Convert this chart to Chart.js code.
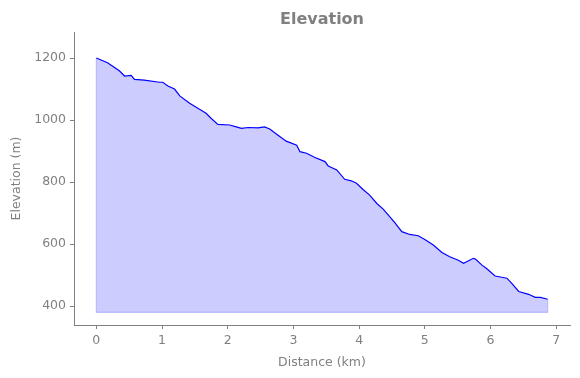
<!DOCTYPE html>
<html>
<head>
<meta charset="utf-8">
<title>Elevation</title>
<script src="https://cdn.jsdelivr.net/npm/chart.js@4.4.1/dist/chart.umd.min.js"></script>
<style>
  html, body { margin: 0; padding: 0; background: #fff; }
  #wrap { width: 580px; height: 378px; }
</style>
</head>
<body>
<div id="wrap"><canvas id="elevChart"></canvas></div>
<script>
// profile
var distKm = [0, 0.17, 0.35, 0.43, 0.53, 0.58, 0.73, 0.96, 1.01, 1.09, 1.19, 1.27, 1.42, 1.57,
  1.67, 1.75, 1.85, 2.03, 2.13, 2.21, 2.31, 2.46, 2.56, 2.64, 2.76, 2.89, 3.05, 3.10, 3.20,
  3.32, 3.48, 3.53, 3.66, 3.78, 3.88, 3.96, 4.06, 4.16, 4.27, 4.37, 4.54, 4.65, 4.77, 4.90,
  5.00, 5.13, 5.26, 5.38, 5.51, 5.59, 5.74, 5.77, 5.87, 5.94, 6.07, 6.17, 6.25, 6.32, 6.43,
  6.58, 6.68, 6.76, 6.87];
var elevM = [1200, 1185, 1159, 1142, 1144, 1131, 1129, 1122, 1122, 1110, 1100, 1078, 1054, 1035,
  1022, 1005, 986, 984, 978, 973, 976, 975, 978, 971, 952, 932, 919, 898, 893,
  880, 866, 852, 839, 809, 804, 796, 776, 758, 731, 712, 670, 640, 631, 627,
  615, 597, 573, 559, 548, 538, 554, 552, 532, 521, 497, 493, 490, 474, 447,
  438, 428, 428, 422];
var baseElev = 380;
var xTicks = [0, 1, 2, 3, 4, 5, 6, 7];
var yTicks = [400, 600, 800, 1000, 1200];

var grey = '#808080';
var last = distKm.length - 1;

var profile = distKm.map(function (d, i) { return { x: d, y: elevM[i] }; });
// outline of the filled area (left edge, floor, right edge)
var outline = [
  { x: distKm[0], y: elevM[0] },
  { x: distKm[0], y: baseElev },
  { x: distKm[last], y: baseElev },
  { x: distKm[last], y: elevM[last] }
];

function setTicks(list) {
  return function (axis) {
    axis.ticks = list.map(function (v) { return { value: v }; });
  };
}
function plainLabel(v) { return String(v); }

var ctx = document.getElementById('elevChart').getContext('2d');
new Chart(ctx, {
  type: 'scatter',
  data: {
    datasets: [{
      label: 'Elevation',
      data: profile,
      showLine: true,
      borderColor: '#0000ff',
      borderWidth: 1.2,
      pointRadius: 0,
      tension: 0,
      fill: { value: baseElev },
      backgroundColor: 'rgba(0, 0, 255, 0.2)',
      order: 1
    }, {
      label: 'edge',
      data: outline,
      showLine: true,
      borderColor: 'rgba(0, 0, 255, 0.22)',
      borderWidth: 1.2,
      pointRadius: 0,
      fill: false,
      order: 2
    }]
  },
  options: {
    responsive: true,
    maintainAspectRatio: false,
    animation: false,
    layout: { padding: { right: 10, left: 0, top: 0, bottom: 0 } },
    plugins: {
      legend: { display: false },
      tooltip: { enabled: false },
      title: {
        display: true,
        text: 'Elevation',
        color: grey,
        fullSize: false,
        font: { family: 'DejaVu Sans', size: 16, weight: 'bold', lineHeight: 1.2 },
        padding: { top: 10, bottom: 2.8 }
      }
    },
    scales: {
      x: {
        type: 'linear',
        min: -0.34,
        max: 7.21,
        afterBuildTicks: setTicks(xTicks),
        afterFit: function (axis) { axis.height = 53; },
        grid: { drawOnChartArea: false, drawTicks: true, tickLength: 4, color: grey },
        border: { color: grey, width: 1 },
        ticks: { color: grey, font: { family: 'DejaVu Sans', size: 12.5 }, padding: 4, maxRotation: 0, callback: plainLabel },
        title: {
          display: true,
          text: 'Distance (km)',
          color: grey,
          font: { family: 'DejaVu Sans', size: 12.5 },
          padding: { top: 2, bottom: 8 }
        }
      },
      y: {
        min: 339,
        max: 1284,
        afterBuildTicks: setTicks(yTicks),
        afterFit: function (axis) { axis.width = 74; },
        grid: { drawOnChartArea: false, drawTicks: true, tickLength: 4, color: grey },
        border: { color: grey, width: 1 },
        ticks: { color: grey, font: { family: 'DejaVu Sans', size: 12.5 }, padding: 4, callback: plainLabel },
        title: {
          display: true,
          text: 'Elevation (m)',
          color: grey,
          font: { family: 'DejaVu Sans', size: 12.5 },
          padding: { top: 9, bottom: 0 }
        }
      }
    }
  }
});
</script>
</body>
</html>
